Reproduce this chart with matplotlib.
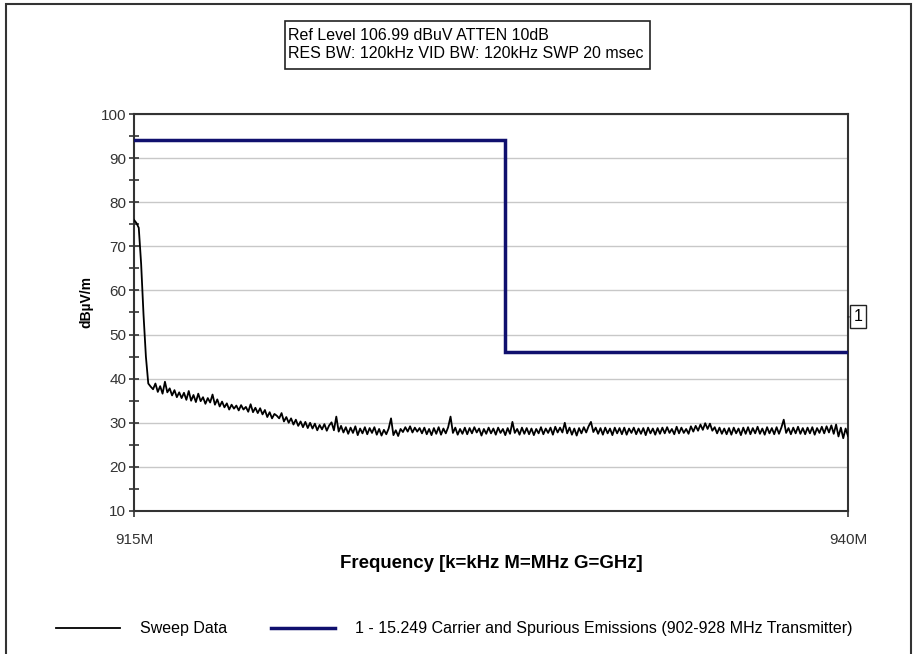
import numpy as np
import matplotlib
matplotlib.use('Agg')
import matplotlib.pyplot as plt
from matplotlib.patches import Rectangle
from matplotlib.ticker import MultipleLocator

plt.rcParams['font.family'] = ['Liberation Sans', 'DejaVu Sans']

# ---------------- data ----------------
f_start, f_stop = 915.0, 940.0          # MHz, sweep span
sweep_dbuv = [
    76.0, 75.3, 74.2, 66.0, 54.5, 45.0, 38.9, 38.2, 37.6, 38.9,
    37.0, 38.3, 36.6, 39.3, 36.9, 37.8, 36.2, 37.4, 35.8, 36.9,
    35.6, 36.8, 35.2, 37.2, 35.0, 36.3, 34.7, 36.6, 34.9, 35.8,
    34.3, 35.6, 34.6, 36.4, 34.1, 35.3, 33.7, 34.8, 33.5, 34.4,
    33.0, 34.1, 33.2, 33.9, 32.8, 34.0, 33.0, 33.6, 32.5, 34.2,
    32.4, 33.4, 32.2, 33.3, 31.9, 32.9, 31.3, 32.4, 31.0, 32.0,
    31.6, 31.0, 32.2, 30.3, 31.3, 30.0, 31.0, 29.6, 30.7, 29.3,
    30.3, 29.0, 30.2, 28.8, 30.0, 28.7, 29.8, 28.3, 29.5, 28.5,
    29.7, 28.2, 29.4, 30.1, 28.3, 31.4, 28.0, 29.3, 27.8, 29.0,
    27.5, 28.9, 27.7, 29.2, 27.2, 28.7, 27.6, 29.0, 27.4, 28.8,
    27.7, 29.0, 27.3, 28.6, 27.1, 28.4, 27.4, 28.7, 31.0, 27.2,
    28.3, 27.0, 28.6, 27.9, 29.0, 28.0, 29.2, 27.8, 28.9, 28.0,
    28.8, 27.6, 28.9, 27.4, 28.6, 27.2, 28.8, 27.5, 29.0, 27.3,
    28.7, 27.6, 29.0, 31.4, 27.7, 28.9, 27.3, 28.6, 27.5, 28.9,
    27.4, 28.8, 27.6, 29.0, 27.8, 28.7, 27.1, 28.6, 27.5, 28.9,
    27.6, 28.7, 27.3, 28.9, 27.7, 28.6, 27.2, 28.8, 27.5, 30.2,
    27.7, 28.6, 27.3, 28.9, 27.5, 28.8, 27.4, 28.7, 27.2, 28.6,
    27.6, 29.0, 27.4, 28.7, 27.7, 28.9, 27.3, 29.1, 27.8, 28.9,
    27.8, 30.0, 27.6, 28.9, 27.3, 28.7, 27.1, 28.8, 27.6, 29.0,
    27.8, 29.2, 30.2, 27.9, 28.9, 27.5, 28.8, 27.3, 28.9, 27.6,
    28.7, 27.2, 28.9, 27.6, 28.8, 27.4, 28.9, 27.3, 28.7, 27.7,
    28.9, 27.4, 28.7, 27.5, 28.8, 27.2, 28.9, 27.6, 28.7, 27.3,
    28.8, 27.5, 28.9, 27.6, 29.0, 27.7, 28.6, 27.4, 29.1, 27.6,
    28.9, 27.7, 28.6, 27.5, 29.2, 28.0, 29.3, 28.2, 29.6, 28.4,
    29.9, 28.6, 29.8, 28.2, 29.0, 27.6, 28.9, 27.5, 28.7, 27.4,
    28.8, 27.3, 28.9, 27.6, 28.7, 27.2, 28.9, 27.5, 29.0, 27.4,
    28.8, 27.6, 29.1, 27.5, 28.7, 27.3, 29.0, 27.6, 28.8, 27.4,
    29.0, 27.5, 28.9, 30.7, 27.7, 28.8, 27.4, 28.9, 27.6, 29.1,
    27.5, 28.8, 27.4, 28.9, 27.6, 29.0, 27.3, 28.8, 27.7, 29.1,
    27.6, 29.2, 27.8, 29.4, 27.5, 29.6, 26.9, 28.9, 26.5, 28.7, 27.0,
]
limit_freq = [915.0, 928.0, 928.0, 940.0]
limit_dbuv = [94.0, 94.0, 46.0, 46.0]
x_ticks = [915.0, 940.0]
x_tick_labels = ['915M', '940M']
marker_level = 54.0
marker_text = '1'
header_lines = ['Ref Level 106.99 dBuV ATTEN 10dB',
                'RES BW: 120kHz VID BW: 120kHz SWP 20 msec']
sweep_label = 'Sweep Data'
limit_label = '1 - 15.249 Carrier and Spurious Emissions (902-928 MHz Transmitter)'

# ---------------- figure ----------------
W, H = 917, 654
fig = plt.figure(figsize=(W / 100, H / 100), dpi=100)
fig.patch.set_facecolor('white')

ax_l, ax_r, ax_t, ax_b = 134, 848, 114, 511
ax = fig.add_axes([ax_l / W, 1 - ax_b / H, (ax_r - ax_l) / W, (ax_b - ax_t) / H])

freq = np.linspace(f_start, f_stop, len(sweep_dbuv))
l1, = ax.plot(freq, sweep_dbuv, color='black', lw=1.3, zorder=3)
l2, = ax.plot(limit_freq, limit_dbuv, color='#10106e', lw=2.5, zorder=4,
              solid_joinstyle='miter')

ax.set_xlim(f_start, f_stop)
ax.set_ylim(10, 100)
ax.yaxis.set_major_locator(MultipleLocator(10))
ax.yaxis.set_minor_locator(MultipleLocator(5))
ax.set_xticks(x_ticks)
ax.set_xticklabels(x_tick_labels)
ax.grid(axis='y', which='major', color='#c8c8c8', lw=1.0)
ax.set_axisbelow(True)

for s in ax.spines.values():
    s.set_color('#333333')
    s.set_linewidth(1.5)

ax.tick_params(axis='y', which='both', direction='inout', length=7, width=1.2,
               color='#333333', labelsize=11, labelcolor='#333333', pad=2)
ax.tick_params(axis='x', which='major', direction='out', length=4, width=1.2,
               color='#333333', labelsize=11, labelcolor='#333333', pad=12)

ax.set_ylabel('dBµV/m', fontsize=10, fontweight='bold')
ax.yaxis.set_label_coords((93 - ax_l) / (ax_r - ax_l), (ax_b - 302) / (ax_b - ax_t))
ax.set_xlabel('Frequency [k=kHz M=MHz G=GHz]', fontsize=13.4, fontweight='bold')
ax.xaxis.set_label_coords(0.5, (ax_b - 555) / (ax_b - ax_t))

# limit marker label at right edge
ax.annotate(marker_text, xy=(1.0, marker_level), xycoords=('axes fraction', 'data'),
            xytext=(10, 0), textcoords='offset pixels', ha='center', va='center',
            fontsize=11.5,
            bbox=dict(boxstyle='square,pad=0.25', fc='white', ec='#222222', lw=1.0),
            arrowprops=dict(arrowstyle='-', lw=1.0, color='#222222',
                            shrinkA=0, shrinkB=0),
            annotation_clip=False)

# header box
fig.patches.append(Rectangle((285 / W, 1 - 69 / H), 365 / W, 48 / H,
                             transform=fig.transFigure, fill=False,
                             ec='#222222', lw=1.2))
fig.text(288 / W, 1 - 35 / H, header_lines[0], fontsize=11.5, va='center', ha='left')
fig.text(288 / W, 1 - 54 / H, header_lines[1], fontsize=11.5, va='center', ha='left')

# legend
fig.legend([l1, l2], [sweep_label, limit_label], loc='center left',
           bbox_to_anchor=(56 / W, 1 - 629 / H), ncol=2, frameon=False,
           fontsize=11.5, handlelength=4.0, handletextpad=1.25,
           columnspacing=2.75, borderpad=0, borderaxespad=0)

# outer border of the picture
fig.patches.append(Rectangle((6 / W, -0.02), (911 - 6) / W, 1.02 - 4 / H,
                             transform=fig.transFigure, fill=False,
                             ec='#333333', lw=1.5, clip_on=False))

fig.savefig('out.png', dpi=100)
